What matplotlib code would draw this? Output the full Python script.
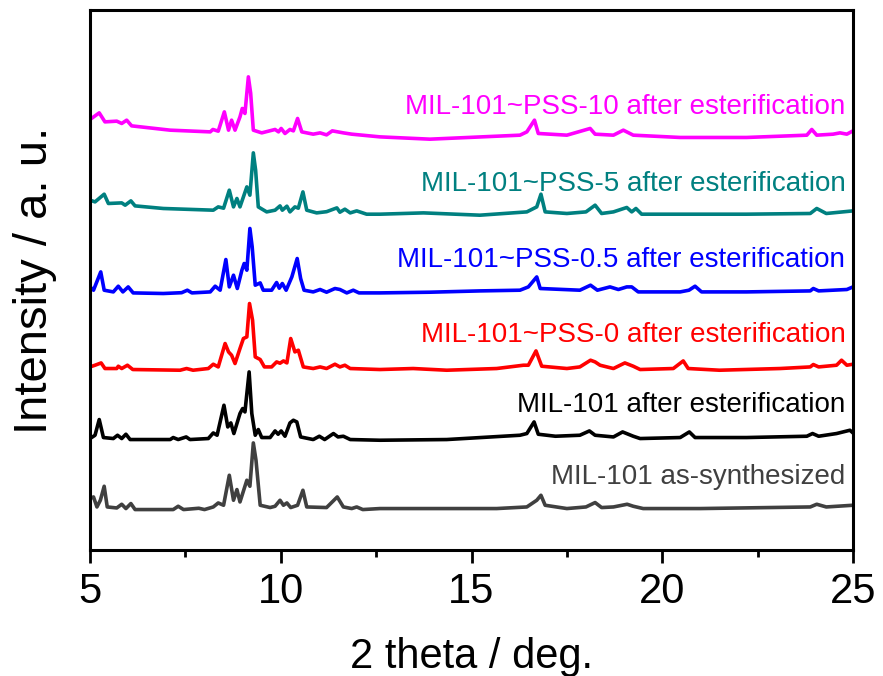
import matplotlib
matplotlib.use("Agg")
import matplotlib.pyplot as plt
from matplotlib.ticker import MultipleLocator

# XRD patterns, already stacked (2 theta in deg, intensity in a.u. incl. offset)
gray_x = [5.00, 5.09, 5.18, 5.27, 5.37, 5.45, 5.70, 5.83, 5.94, 6.07, 6.18, 7.18, 7.31, 7.45, 7.85,
          8.00, 8.23, 8.36, 8.50, 8.65, 8.76, 8.85, 8.93, 9.11, 9.19, 9.28, 9.35, 9.46, 9.72, 9.85,
          9.98, 10.07, 10.16, 10.26, 10.44, 10.58, 10.68, 11.20, 11.48, 11.64, 11.86, 11.99, 12.15,
          12.60, 14.35, 15.66, 16.45, 16.71, 16.82, 16.93, 17.50, 18.00, 18.24, 18.41, 18.72, 19.08,
          19.24, 19.50, 21.00, 23.88, 24.05, 24.30, 25.00]
gray_y = [51.7, 53.3, 43.3, 50.0, 64.0, 43.3, 42.3, 46.0, 41.7, 46.7, 40.7, 40.7, 44.0, 40.7, 42.0,
          40.7, 43.3, 47.3, 45.0, 75.0, 50.0, 60.7, 48.3, 70.0, 64.0, 107.3, 90.0, 45.0, 42.7, 44.0,
          50.0, 45.0, 47.3, 42.7, 45.0, 60.0, 43.3, 42.7, 53.3, 43.3, 41.7, 43.3, 40.7,
          41.7, 41.7, 41.7, 43.3, 50.0, 55.0, 45.0, 41.7, 43.3, 47.7, 42.7, 43.3, 46.0,
          44.0, 41.7, 41.7, 43.3, 46.0, 43.3, 45.0]

black_x = [5.00, 5.13, 5.24, 5.35, 5.61, 5.72, 5.83, 5.94, 6.05, 7.10, 7.18, 7.31, 7.52, 7.62, 8.10,
           8.23, 8.33, 8.51, 8.61, 8.69, 8.77, 8.93, 9.00, 9.06, 9.17, 9.24, 9.33, 9.41, 9.50, 9.72,
           9.85, 9.93, 10.01, 10.11, 10.24, 10.33, 10.42, 10.52, 10.85, 11.01, 11.15, 11.38, 11.50,
           11.64, 11.82, 12.60, 14.35, 16.27, 16.45, 16.64, 16.75, 17.20, 17.84, 18.09, 18.24, 18.72,
           18.96, 19.24, 19.42, 20.47, 20.71, 20.86, 22.21, 23.79, 23.94, 24.10, 24.57, 24.92, 25.00]
black_y = [111.7, 115.0, 130.7, 112.7, 111.7, 115.0, 111.7, 116.0, 110.7, 110.7, 112.7, 110.7, 113.3, 110.7, 111.7,
           117.3, 115.0, 145.0, 123.3, 127.3, 116.7, 136.7, 141.7, 138.3, 178.3, 136.7, 115.0, 120.7, 112.7, 112.7,
           119.3, 116.0, 119.3, 114.0, 127.3, 130.0, 128.3, 113.3, 110.7, 114.0, 110.7, 116.7, 113.3,
           114.0, 110.7, 110.0, 110.7, 115.0, 116.7, 128.3, 116.0, 114.0, 115.0, 119.3, 115.0, 113.3,
           118.3, 114.0, 111.7, 112.7, 118.3, 112.7, 112.7, 114.0, 116.7, 114.0, 116.7, 120.0, 117.3]

red_x = [5.00, 5.13, 5.29, 5.39, 5.70, 5.74, 5.83, 5.98, 6.12, 7.36, 7.53, 7.70, 8.10, 8.23, 8.36,
         8.54, 8.63, 8.71, 8.80, 8.93, 9.02, 9.11, 9.18, 9.26, 9.33, 9.46, 9.57, 9.76, 9.89, 9.98,
         10.07, 10.16, 10.26, 10.37, 10.46, 10.59, 10.85, 11.03, 11.20, 11.42, 11.55, 11.68, 11.82,
         12.60, 13.47, 14.35, 15.66, 16.36, 16.49, 16.69, 16.84, 17.50, 17.84, 18.12, 18.24, 18.37,
         18.72, 19.02, 19.24, 19.42, 20.29, 20.55, 20.68, 21.50, 23.09, 23.88, 23.96, 24.10, 24.57,
         24.70, 24.84, 25.00]
red_y = [183.3, 185.0, 187.3, 181.7, 181.7, 184.0, 181.7, 185.0, 180.7, 180.0, 181.7, 180.0, 181.7, 186.0, 183.3,
         206.7, 198.3, 195.0, 186.7, 201.7, 211.7, 213.3, 246.7, 230.0, 193.3, 190.7, 183.3, 183.3, 188.3, 187.0,
         189.3, 187.3, 211.7, 198.3, 200.0, 183.3, 181.7, 183.3, 181.7, 186.0, 183.3, 185.0, 181.7,
         180.7, 181.7, 180.0, 181.7, 185.0, 185.0, 199.3, 184.0, 181.7, 183.3, 190.0, 188.3, 185.0,
         181.7, 187.3, 184.0, 180.7, 181.7, 189.3, 181.7, 180.0, 181.7, 183.3, 185.7, 183.3, 185.0,
         190.0, 185.0, 186.0]

blue_x = [5.00, 5.09, 5.28, 5.37, 5.61, 5.74, 5.86, 6.00, 6.13, 6.92, 7.40, 7.55, 7.67, 8.15, 8.28,
          8.41, 8.56, 8.65, 8.76, 8.86, 8.98, 9.04, 9.11, 9.19, 9.25, 9.33, 9.46, 9.54, 9.76, 9.89,
          9.96, 10.04, 10.14, 10.29, 10.43, 10.52, 10.61, 10.85, 11.03, 11.20, 11.42, 11.55, 11.73,
          11.90, 12.05, 12.60, 13.91, 15.22, 16.27, 16.49, 16.71, 16.80, 17.84, 18.12, 18.30, 18.63,
          18.85, 19.07, 19.20, 19.37, 20.47, 20.70, 20.86, 21.03, 22.21, 23.88, 23.96, 24.10, 24.84, 25.00]
blue_y = [263.3, 260.0, 278.3, 260.0, 258.3, 264.0, 258.3, 263.3, 257.3, 256.7, 257.5, 260.0, 257.3, 258.3, 264.0,
          260.0, 290.7, 263.3, 275.0, 261.7, 280.0, 286.7, 280.0, 321.7, 303.3, 265.0, 267.3, 260.0, 260.0, 267.7,
          262.0, 266.7, 260.0, 273.3, 291.7, 271.7, 260.0, 258.3, 260.7, 258.0, 261.7, 260.7, 257.3,
          260.0, 257.3, 257.3, 258.0, 259.3, 260.0, 263.3, 273.3, 261.7, 260.0, 265.0, 260.0, 263.3,
          260.7, 263.3, 263.3, 258.3, 258.3, 260.0, 264.0, 258.3, 258.3, 259.3, 261.7, 259.3, 260.7, 263.3]

teal_x = [5.00, 5.13, 5.37, 5.48, 5.83, 5.92, 6.07, 6.18, 6.92, 8.23, 8.36, 8.50, 8.65, 8.76, 8.85,
          8.93, 9.11, 9.19, 9.28, 9.34, 9.41, 9.63, 9.85, 9.98, 10.04, 10.16, 10.24, 10.37, 10.46,
          10.58, 10.68, 10.94, 11.20, 11.47, 11.55, 11.68, 11.82, 11.99, 12.25, 12.60, 13.74, 15.22,
          16.45, 16.71, 16.82, 16.93, 17.50, 18.00, 18.24, 18.41, 18.72, 19.07, 19.20, 19.31, 19.46,
          20.47, 22.21, 23.88, 24.05, 24.30, 25.00]
teal_y = [350.0, 348.3, 356.0, 346.7, 347.3, 345.0, 349.3, 344.3, 341.7, 340.0, 343.3, 342.0, 360.0, 343.3, 351.7,
          343.3, 363.3, 355.0, 397.3, 380.0, 343.3, 338.3, 340.0, 344.3, 340.0, 344.0, 338.3, 343.3, 342.0,
          358.3, 340.0, 337.3, 338.5, 342.3, 338.0, 341.0, 337.3, 339.3, 336.0, 336.0, 337.3, 335.0,
          338.3, 343.3, 356.0, 338.3, 336.7, 338.3, 345.0, 336.7, 338.3, 342.7, 338.3, 341.7, 336.0,
          336.0, 336.0, 336.7, 341.7, 336.7, 339.3]

magenta_x = [5.00, 5.24, 5.39, 5.70, 5.83, 5.96, 6.09, 7.10, 8.15, 8.22, 8.36, 8.52, 8.63, 8.71, 8.80,
             8.93, 8.99, 9.06, 9.15, 9.21, 9.28, 9.50, 9.85, 9.94, 10.01, 10.11, 10.24, 10.33, 10.44,
             10.55, 10.85, 11.03, 11.20, 11.35, 11.64, 11.86, 12.60, 13.91, 16.27, 16.45, 16.65, 16.75,
             17.50, 17.71, 18.11, 18.24, 18.72, 18.98, 19.24, 20.47, 22.21, 23.79, 23.92, 24.05, 24.48,
             24.66, 24.84, 25.00]
magenta_y = [430.7, 437.3, 428.3, 429.0, 426.7, 430.0, 424.3, 420.0, 418.3, 420.7, 419.0, 438.3, 420.0, 430.0, 420.0,
             433.3, 441.7, 436.7, 473.3, 457.0, 420.0, 417.3, 420.7, 418.3, 421.7, 416.7, 420.7, 419.3, 431.7,
             418.3, 416.0, 417.3, 415.3, 419.3, 417.3, 416.0, 413.3, 411.0, 415.0, 418.3, 430.0, 416.7,
             415.0, 417.3, 421.7, 416.0, 415.0, 420.0, 415.0, 412.7, 412.7, 415.0, 420.7, 415.0, 416.0,
             417.3, 416.0, 419.3]

labels = ["MIL-101 as-synthesized", "MIL-101 after esterification",
          "MIL-101~PSS-0 after esterification", "MIL-101~PSS-0.5 after esterification",
          "MIL-101~PSS-5 after esterification", "MIL-101~PSS-10 after esterification"]
label_y = [73, 145, 215, 290, 366, 443]
colors = ["#404040", "#000000", "#ff0000", "#0000ff", "#008080", "#ff00ff"]

series = [(gray_x, gray_y), (black_x, black_y), (red_x, red_y),
          (blue_x, blue_y), (teal_x, teal_y), (magenta_x, magenta_y)]

plt.rcParams["font.family"] = ["Liberation Sans", "DejaVu Sans"]

fig = plt.figure(figsize=(8.83, 6.76), dpi=100)
ax = fig.add_axes([0.102, 0.186, 0.864, 0.799])

for (x, y), c, lab, ly in zip(series, colors, labels, label_y):
    ax.plot(x, y, color=c, lw=2.6, solid_joinstyle="round")
    ax.text(24.8, ly, lab, color=c, ha="right", va="center", fontsize=20)

ax.set_xlim(5, 25)
ax.set_ylim(0, 540)
ax.xaxis.set_major_locator(MultipleLocator(5))
ax.xaxis.set_minor_locator(MultipleLocator(2.5))
ax.set_yticks([])
ax.tick_params(axis="x", which="major", direction="out", length=9, width=2,
               labelsize=30, pad=7)
ax.tick_params(axis="x", which="minor", direction="out", length=5, width=2)
for s in ax.spines.values():
    s.set_linewidth(2.2)

ax.set_xlabel("2 theta / deg.", fontsize=30, labelpad=18)
ax.set_ylabel("Intensity / a. u.", fontsize=34, labelpad=24)

fig.savefig("out.png", dpi=100)
